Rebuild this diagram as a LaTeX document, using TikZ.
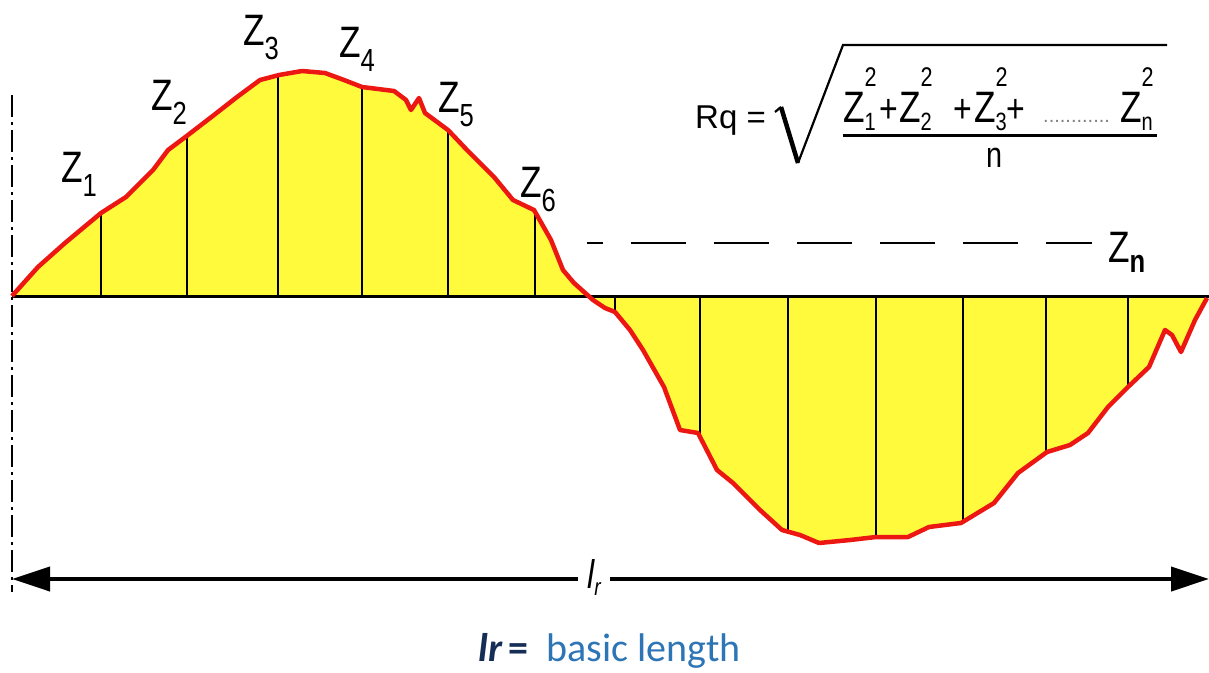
\documentclass[tikz,border=0pt]{standalone}
\usepackage{fontspec}
\setmainfont{Liberation Sans}
\newfontfamily\zfont[FakeStretch=0.8]{Liberation Sans}
\newfontfamily\notefont{Carlito}
\usetikzlibrary{arrows.meta}
\usepackage{xcolor}
\definecolor{surfyellow}{RGB}{255,250,60}
\definecolor{profred}{RGB}{236,22,18}
\definecolor{noteblue}{RGB}{46,117,182}
\definecolor{notenavy}{RGB}{22,45,85}

\newcommand{\zlab}[1]{Z\raisebox{-14pt}{\fontsize{32}{32}\selectfont #1}}
\newcommand{\zsq}[2]{\rlap{\raisebox{36pt}{\fontsize{27}{27}\selectfont #2}}\raisebox{-8pt}{\fontsize{25}{25}\selectfont #1}}
\newcommand{\profileline}{(12,296) -- (38,267) -- (65,243) -- (101,213) -- (126,197) -- (153,170)
  -- (168,150) -- (188,135) -- (214,115) -- (237,97) -- (260,80) -- (279,75) -- (302,71) -- (325,73)
  -- (344,80) -- (362,87) -- (394,91) -- (406,100) -- (411,110) -- (419,98) -- (425,113) -- (448,130)
  -- (467,150) -- (494,177) -- (513,200) -- (534,210) -- (551,240) -- (563,270) -- (574,283)
  -- (593,300) -- (605,308) -- (615,312) -- (630,330) -- (643,350) -- (664,387) -- (680,430)
  -- (698,433) -- (717,470) -- (733,483) -- (760,510) -- (782,530) -- (800,535) -- (819,543)
  -- (850,540) -- (876,537) -- (908,537) -- (929,527) -- (961,523) -- (994,503) -- (1018,473)
  -- (1047,452) -- (1070,445) -- (1088,433) -- (1108,407) -- (1128,387) -- (1149,367) -- (1165,330)
  -- (1172,335) -- (1181,352) -- (1195,320) -- (1207,298)}

\begin{document}
\begin{tikzpicture}[x=1pt,y=-1pt,
  profile/.style={draw=profred, line width=4.5pt, line join=round},
  ordinate/.style={black, line width=1.4pt},
  zlabel/.style={font=\zfont\fontsize{44}{44}\selectfont, inner sep=0pt, anchor=base west},
  numterm/.style={font=\zfont\fontsize{44}{44}\selectfont, inner sep=0pt, anchor=base west}]
  \useasboundingbox (0,0) rectangle (1209,672);

  % profile area with the ordinates
  \fill[surfyellow] \profileline -- cycle;
  \begin{scope}
    \clip \profileline -- cycle;
    \foreach \xo in {101,187,278,362,448,535,615,700,788,876,963,1046,1128}
      \draw[ordinate] (\xo,40) -- (\xo,570);
  \end{scope}
  \draw[black, line width=3pt] (12,296) -- (1209,296);
  \draw[profile] \profileline;

  \draw[line width=2.5pt, dash pattern=on 22pt off 5pt on 3pt off 5pt] (12,95) -- (12,592);
  \draw[line width=2pt, dash pattern=on 55pt off 28pt, dash phase=39pt] (587,243) -- (1092,243);

  \node[zlabel] (z1) at (61,182) {\zlab{1}};
  \node[zlabel] (z2) at (151,110) {\zlab{2}};
  \node[zlabel] (z3) at (243,45) {\zlab{3}};
  \node[zlabel] (z4) at (339,57) {\zlab{4}};
  \node[zlabel] (z5) at (438,112) {\zlab{5}};
  \node[zlabel] (z6) at (520,197) {\zlab{6}};
  \node[zlabel] (zn) at (1108,262) {Z\raisebox{-10pt}{\fontsize{32}{32}\selectfont\bfseries n}};

  % Rq formula
  \node[font=\fontsize{33}{33}\selectfont, inner sep=0pt, anchor=base west] (rq) at (695,128) {Rq =};
  \draw[line width=4.5pt] (781,107) -- (798,163);
  \draw[line width=2.2pt] (775,112) -- (781,107);
  \draw[line width=2.2pt, line join=miter] (798,163) -- (843,45) -- (1167,45);
  \foreach \xz/\s in {843/1,899/2,974/3,1120/n}
    \node[numterm] (num\s) at (\xz,122) {Z\zsq{\s}{2}};
  \foreach \xp in {879,953,1006}
    \node[numterm, font=\zfont\fontsize{40}{40}\selectfont] (plus\xp) at (\xp,122) {+};
  \node[numterm, font=\fontsize{20}{20}\selectfont, gray] (dots) at (1043,122) {............};
  \draw[line width=3pt] (843,135) -- (1157,135);
  \node[numterm, font=\zfont\fontsize{36}{36}\selectfont] (den) at (986,167) {n};

  % basic length
  \coordinate (lend) at (12,579);
  \coordinate (rend) at (1209,579);
  \draw[line width=4pt, {Triangle[length=38pt,width=24pt]}-{Triangle[length=38pt,width=24pt]}] (lend) -- (rend);
  \node[fill=white, inner xsep=9pt, inner ysep=2pt, font=\zfont\fontsize{40}{40}\selectfont] (lr) at (594,577)
    {\itshape l\raisebox{-7pt}{\fontsize{24}{24}\selectfont r}};
  \node[font=\notefont\fontsize{40}{40}\selectfont, text=noteblue, inner sep=0pt, anchor=base west] (note) at (478,661)
    {{\color{notenavy}\bfseries\itshape lr}\,{\color{notenavy}\bfseries =}\ \ basic length};
\end{tikzpicture}
\end{document}
